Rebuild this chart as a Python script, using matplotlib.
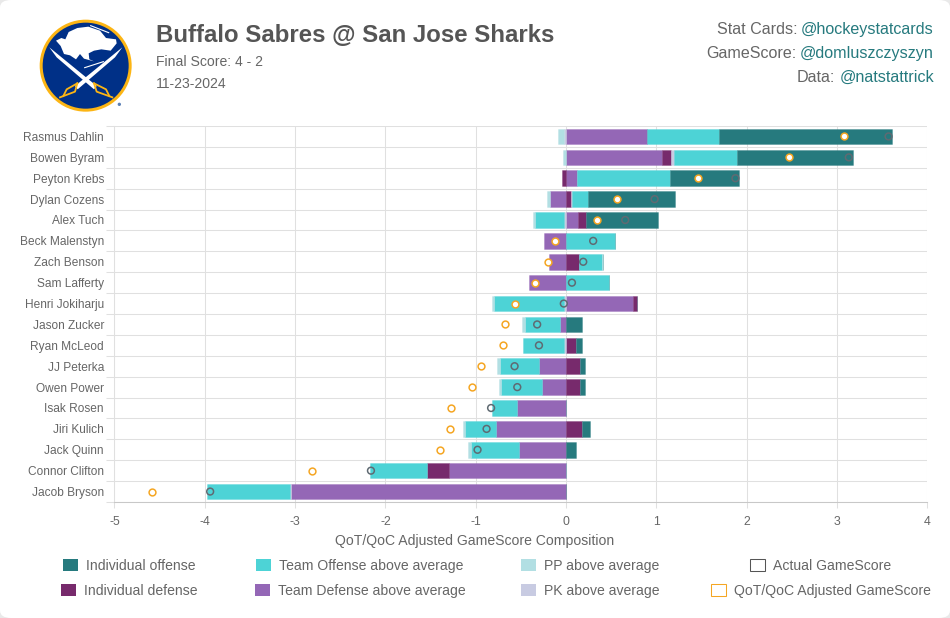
#!/usr/bin/env python3
"""Sabres at Sharks stat card: QoT/QoC adjusted GameScore composition."""

import matplotlib
matplotlib.use("Agg")
import matplotlib.pyplot as plt
from matplotlib.colors import to_rgba
from matplotlib.patches import Circle, FancyBboxPatch, Polygon, Rectangle

plt.rcParams["font.family"] = ["Liberation Sans", "DejaVu Sans"]

players = ["Rasmus Dahlin", "Bowen Byram", "Peyton Krebs", "Dylan Cozens", "Alex Tuch",
           "Beck Malenstyn", "Zach Benson", "Sam Lafferty", "Henri Jokiharju", "Jason Zucker",
           "Ryan McLeod", "JJ Peterka", "Owen Power", "Isak Rosen", "Jiri Kulich",
           "Jack Quinn", "Connor Clifton", "Jacob Bryson"]

team_defense = [0.90, 1.06, 0.12, -0.18, 0.135, -0.24, -0.19, -0.405, 0.74, -0.065,
                0.0, -0.295, -0.27, -0.545, -0.775, -0.525, -1.295, -3.05]
ind_defense = [0.0, 0.10, -0.05, 0.055, 0.09, 0.0, 0.145, 0.0, 0.05, 0.0,
               0.115, 0.15, 0.15, 0.0, 0.18, 0.0, -0.245, 0.0]
pk_above = [-0.02, 0.03, 0.0, 0.01, -0.02, 0.0, 0.0, 0.0, -0.02, 0.0,
            -0.02, 0.0, 0.0, 0.0, 0.0, 0.0, 0.0, -0.01]
team_offense = [0.79, 0.70, 1.03, 0.18, -0.32, 0.54, 0.25, 0.47, -0.78, -0.39,
                -0.455, -0.44, -0.445, -0.28, -0.34, -0.53, -0.63, -0.91]
pp_above = [-0.065, -0.03, 0.0, -0.035, -0.03, 0.0, 0.01, 0.0, -0.025, -0.035,
            0.0, -0.03, -0.025, 0.0, -0.03, -0.03, 0.0, 0.0]
ind_offense = [1.92, 1.285, 0.765, 0.965, 0.79, 0.0, 0.0, 0.0, 0.0, 0.175,
               0.06, 0.065, 0.06, 0.0, 0.09, 0.11, 0.0, 0.0]

actual_gs = [3.57, 3.13, 1.875, 0.98, 0.655, 0.30, 0.19, 0.065, -0.025, -0.32,
             -0.30, -0.57, -0.54, -0.83, -0.88, -0.98, -2.16, -3.94]
adjusted_gs = [3.08, 2.47, 1.465, 0.56, 0.345, -0.12, -0.205, -0.345, -0.565, -0.675,
               -0.70, -0.94, -1.04, -1.27, -1.29, -1.40, -2.81, -4.58]

xticks = [-5, -4, -3, -2, -1, 0, 1, 2, 3, 4]

TEAL = "#267a7e"
TURQ = "#4dd3d6"
PP = "#b2dfe3"
PLUM = "#772a6c"
PURPLE = "#9467b6"
PK = "#c8cbe2"
GREY = "#666666"
ORANGE = "#f5a623"
GRID = "#e0e0e0"

W, H = 950, 618


def box(x0, y0, x1, y1):
    return [x0 / W, 1 - y1 / H, (x1 - x0) / W, (y1 - y0) / H]


def draw_logo(fig):
    # coordinates are just the shape of the crest, not data
    ax = fig.add_axes(box(20, 10, 150, 120))
    ax.set_xlim(0, 390)
    ax.set_ylim(330, 0)
    ax.axis("off")
    gold = "#fcb514"
    ax.add_patch(Circle((197, 167), 138, color=gold, lw=0))
    ax.add_patch(Circle((197, 167), 129, color="#003087", lw=0))
    # swords taper from the tip down to the guard
    ax.add_patch(Polygon([(88, 112), (230, 228), (222, 238), (110, 142)], color="white", lw=0))
    ax.add_patch(Polygon([(307, 112), (165, 228), (173, 238), (285, 142)], color="white", lw=0))
    buffalo = [(108, 92), (124, 84), (136, 88), (146, 66), (172, 54), (205, 50), (240, 62), (258, 84),
               (288, 88), (290, 100), (272, 122), (244, 118), (222, 122), (206, 130), (208, 148),
               (222, 154), (192, 146), (180, 132), (168, 148), (150, 136), (132, 132), (122, 108)]
    ax.add_patch(Polygon(buffalo, color="white", lw=0))
    ax.plot([212, 266], [47, 68], color="white", lw=0.8)
    ax.plot([194, 250], [173, 155], color="white", lw=0.8)
    for pts in [[(172, 220), (165, 245), (120, 262)], [(172, 220), (140, 238), (130, 258)],
                [(222, 220), (230, 245), (277, 262)], [(222, 220), (258, 238), (268, 258)]]:
        ax.plot(*zip(*pts), color=gold, lw=1.3)
    ax.add_patch(Circle((298, 283), 5, color="#5a7fb5", lw=0))


def right_credit(fig, y, label, link):
    t = fig.text(934 / W, 1 - y / H, link, color=TEAL, fontsize=11.6, ha="right", va="center_baseline")
    bb = t.get_window_extent(fig.canvas.get_renderer())
    fig.text((bb.x0 - 4) / W, 1 - y / H, label, color=GREY, fontsize=11.6, ha="right", va="center_baseline")


def main():
    fig = plt.figure(figsize=(W / 100, H / 100), dpi=100, facecolor="#e9e9e9")
    fig.add_artist(FancyBboxPatch((0, 0), 1, 1, boxstyle="round,pad=0,rounding_size=0.012",
                                  transform=fig.transFigure, fc="white", ec="none", zorder=-1))

    ax = fig.add_axes(box(114.4, 126, 927.4, 502))
    ax.patch.set_alpha(0)
    series = [(team_defense, PURPLE), (ind_defense, PLUM), (pk_above, PK),
              (team_offense, TURQ), (pp_above, PP), (ind_offense, TEAL)]
    ypos = list(range(len(players)))
    pos = [0.0] * len(players)
    neg = [0.0] * len(players)
    for values, color in series:
        lefts = [pos[i] if v >= 0 else neg[i] for i, v in enumerate(values)]
        ax.barh(ypos, values, left=lefts, height=0.74, color=color, linewidth=0.7,
                edgecolor=to_rgba(color, 0.3), zorder=3)
        for i, v in enumerate(values):
            if v >= 0:
                pos[i] += v
            else:
                neg[i] += v

    ax.scatter(actual_gs, ypos, s=24, facecolors="none", edgecolors="#5f6a72", linewidths=1.1, zorder=4)
    ax.scatter(adjusted_gs, ypos, s=24, facecolors="white", edgecolors=ORANGE, linewidths=1.1, zorder=5)

    ax.set_xlim(-5, 4)
    ax.set_ylim(17.5, -0.5)
    ax.set_xticks(xticks)
    ax.set_xticklabels([str(v) for v in xticks])
    ax.set_yticks(ypos)
    ax.set_yticklabels(players, va="center_baseline")
    ax.set_yticks([i - 0.5 for i in range(len(players) + 1)], minor=True)
    ax.grid(True, axis="x", color=GRID, lw=0.75)
    ax.grid(True, axis="y", which="minor", color=GRID, lw=0.75)
    ax.set_axisbelow(True)
    ax.tick_params(axis="y", which="major", length=0, pad=7.5, labelsize=8.6, labelcolor=GREY)
    ax.tick_params(axis="y", which="minor", length=5.8, color=GRID, width=0.75)
    ax.tick_params(axis="x", length=4.3, color=GRID, width=0.75, pad=5.7, labelsize=8.8, labelcolor=GREY)
    ax.spines["left"].set_color(GRID)
    ax.spines["left"].set_linewidth(0.75)
    ax.spines["bottom"].set_color("#c8c8c8")
    ax.spines["bottom"].set_linewidth(0.75)
    ax.spines["top"].set_visible(False)
    ax.spines["right"].set_visible(False)

    fig.text(475 / W, 1 - 541 / H, "QoT/QoC Adjusted GameScore Composition", color=GREY,
             fontsize=10.05, ha="center", va="center")

    draw_logo(fig)
    fig.text(156 / W, 1 - 35.5 / H, "Buffalo Sabres @ San Jose Sharks", color="#555555",
             fontsize=17.3, fontweight="bold", ha="left", va="center")
    fig.text(156 / W, 1 - 62.5 / H, "Final Score: 4 - 2", color=GREY, fontsize=10.1, ha="left", va="center")
    fig.text(156 / W, 1 - 83.5 / H, "11-23-2024", color=GREY, fontsize=10.1, ha="left", va="center")

    fig.canvas.draw()
    right_credit(fig, 28, "Stat Cards:", "@hockeystatcards")
    right_credit(fig, 52, "GameScore:", "@domluszczyszyn")
    right_credit(fig, 76, "Data:", "@natstattrick")

    legend = [(63, 565, "Individual offense", TEAL, None), (256, 565, "Team Offense above average", TURQ, None),
              (521, 565, "PP above average", PP, None), (750, 565, "Actual GameScore", "none", "#555555"),
              (61, 590, "Individual defense", PLUM, None), (255, 590, "Team Defense above average", PURPLE, None),
              (521, 590, "PK above average", PK, None), (711, 590, "QoT/QoC Adjusted GameScore", "none", ORANGE)]
    for x, y, label, fc, ec in legend:
        fig.add_artist(Rectangle((x / W, 1 - (y + 6) / H), 15 / W, 12 / H, transform=fig.transFigure,
                                 fc=fc, ec=ec if ec else "none", lw=0.75))
        fig.text((x + 23) / W, 1 - (y + 1) / H, label, color=GREY, fontsize=10.05, ha="left", va="center")

    fig.savefig("out.png", dpi=100, facecolor=fig.get_facecolor())
    return 0


if __name__ == "__main__":
    raise SystemExit(main())
